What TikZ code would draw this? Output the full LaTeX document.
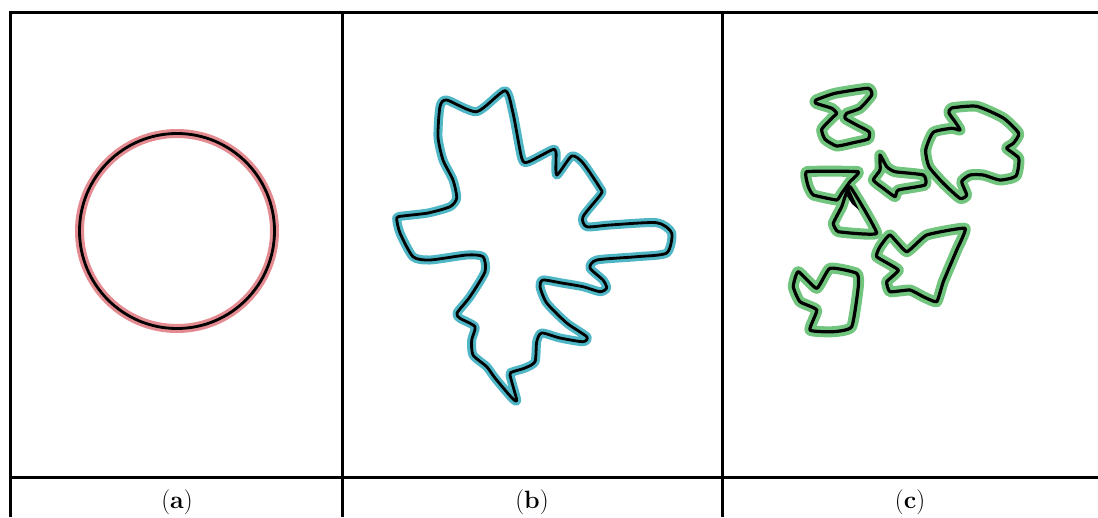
\documentclass[tikz,border=0pt]{standalone}
\usepackage{fontspec}
\setmainfont{Latin Modern Roman}
\newcommand\capsize{\fontsize{25pt}{29pt}\selectfont}
\begin{document}
\begin{tikzpicture}[x=1pt,y=-1pt,
  rule/.style={line width=3pt,black},
  halo/.style={line width=9pt,line join=round,draw=#1},
  core/.style={line width=2.8pt,line join=round,draw=black},
  lab/.style={inner sep=0pt}]
\definecolor{pinkhalo}{HTML}{E48B92}
\definecolor{tealhalo}{HTML}{4FB6C6}
\definecolor{greenhalo}{HTML}{72C57E}
\useasboundingbox (0,0) rectangle (1098,517);

% table rules
\draw[rule] (10,517) -- (10,12) -- (1098,12);
\draw[rule] (10,477.5) -- (1098,477.5);
\draw[rule] (342,12) -- (342,517);
\draw[rule] (722.5,12) -- (722.5,517);

% captions
\node[lab] (la) at (177,502) {\capsize(\textbf{a})};
\node[lab] (lb) at (532,502) {\capsize(\textbf{b})};
\node[lab] (lc) at (910,502) {\capsize(\textbf{c})};

% (a) smooth boundary
\draw[halo=pinkhalo] (177,231) circle (97.5);
\draw[core] (177,231) circle (97.5);

% (b) irregular boundary
\def\shapeB{plot[smooth cycle,tension=0.4] coordinates{
 (446.7,100) (476.7,111.7) (505,90.7) (513,113) (521.7,158) (528,162)
 (551.7,150) (556,152) (556.7,175) (571.7,156) (583,163) (600,188)
 (601,194) (583,216.7) (586.7,226.7) (610,225) (656.7,222.7) (671.7,233)
 (666.7,253) (636.7,256.7) (596.7,260) (590,268) (603,280) (606.7,288)
 (600,291.7) (583,286.7) (561.7,283) (543,280) (540,286.7) (546.7,303)
 (566.7,323) (586.7,336.7) (583,341.7) (560,338) (541.7,333) (536.7,341.7)
 (535,361.7) (525,368) (513,371.7) (510,375) (516.7,400) (512,398)
 (495,378) (486.7,366.7) (473,355) (471.7,340) (475,326.7) (460,318.3)
 (457,313) (470,296.7) (485,271.7) (483,256.7) (466.7,255) (430,260)
 (413,256.7) (400,233) (396.7,218) (403,216) (428,213) (450,206.7)
 (456.7,198) (453,180) (443,160) (438,136.7) (440,106.7)}}
\draw[halo=tealhalo] \shapeB;
\draw[core] \shapeB;

% (c) fragmented boundaries
\def\cA{plot[smooth cycle,tension=0.3] coordinates{
 (816,100) (835,93.3) (868,88.3) (871.7,95) (860,108.3) (846.7,113.3)
 (845,118.3) (856.7,125) (869,131.7) (868.3,139) (853.3,142.7)
 (836.7,146) (825,139.3) (821.7,129.3) (831.7,118.3) (836.7,113.3)
 (831.7,108.3) (816,103.3)}}
\def\cB{plot[smooth cycle,tension=0.2] coordinates{
 (806.7,171.7) (858.3,171.7) (850,181.7) (841.7,193.3) (836.7,200)
 (813.3,195) (808.3,186.7)}}
\def\cC{plot[smooth cycle,tension=0.2] coordinates{
 (850,186.7) (876.7,233.3) (838.3,231.7) (833.3,223.3) (841.7,206.7)}}
\def\cD{plot[smooth cycle,tension=0.3] coordinates{
 (880,155) (886.7,166.7) (895,171.7) (923.3,175) (925,185) (898.3,190)
 (895,196.7) (883.3,188.3) (873.3,180) (880,170)}}
\def\cE{plot[smooth cycle,tension=0.35] coordinates{
 (951.7,108) (976.7,106.3) (1003.3,118) (1018.7,133.3) (1013.3,143.3)
 (1006.7,148.3) (1018.7,158.3) (1016,176) (1000,180) (983.3,175)
 (970,175) (961.7,181.7) (966.7,195) (960,198.3) (943.3,183.3)
 (929,166.7) (925.7,150) (933.3,132.3) (951.7,128.3) (960,130)
 (955,121.7) (949,113)}}
\def\cF{plot[smooth cycle,tension=0.25] coordinates{
 (880,246.7) (890,235) (906.7,251.7) (926.7,235) (965,228.3) (956.7,250)
 (943.3,281.7) (936.7,301.7) (923.3,296.7) (910,290) (890,291.7)
 (886.7,281.7) (898.3,270) (876.7,256.7)}}
\def\cG{plot[smooth cycle,tension=0.3] coordinates{
 (798.3,271.7) (816.7,288.3) (830,268.3) (856.7,273.3) (858.3,286.7)
 (851.7,326.7) (833.3,331.7) (810,330) (816.7,310) (800,301.7)
 (793.3,286.7)}}
\foreach \s in {\cA,\cB,\cC,\cD,\cE,\cF,\cG}{\draw[halo=greenhalo,line width=11pt] \s;}
\foreach \s in {\cA,\cB,\cC,\cD,\cE,\cF,\cG}{\draw[core,line width=3.2pt] \s;}
% dark sliver where two fragments touch
\fill[black] (849,188) -- (859,210) -- (852,204) -- (847,196) -- cycle;
\end{tikzpicture}
\end{document}
